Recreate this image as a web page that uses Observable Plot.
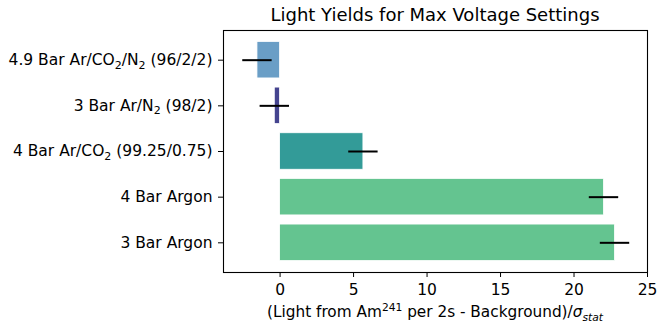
<!DOCTYPE html>
<html>
<head>
<meta charset="utf-8">
<script src="https://cdn.jsdelivr.net/npm/d3@7"></script>
<script src="https://cdn.jsdelivr.net/npm/@observablehq/plot@0.6"></script>
<style>
  html, body { margin: 0; padding: 0; background: white; }
  svg { display: block; }
</style>
</head>
<body>
<div id="chart"></div>
<script>
const title = "Light Yields for Max Voltage Settings";
const categories = ["4.9 Bar Ar/CO₂/N₂ (96/2/2)", "3 Bar Ar/N₂ (98/2)", "4 Bar Ar/CO₂ (99.25/0.75)", "4 Bar Argon", "3 Bar Argon"];
const values = [-1.54, -0.36, 5.67, 22.04, 22.79];
const errors = [1.0, 1.0, 1.0, 1.0, 1.0];
const colors = ["#6a9ec6", "#45448f", "#339b98", "#64c490", "#64c490"];
const xTicks = [0, 5, 10, 15, 20, 25];

const data = categories.map((c, i) => ({cat: c, value: values[i], err: errors[i], color: colors[i]}));

const W = 664, H = 332, ML = 223, MR = 17, MT = 30, MB = 60;

const chart = Plot.plot({
  width: W, height: H,
  marginLeft: ML, marginRight: MR, marginTop: MT, marginBottom: MB,
  style: {fontFamily: "DejaVu Sans", fontSize: "15.5px", color: "#000", background: "white", overflow: "visible"},
  x: {domain: [-3.85, 25.0], ticks: xTicks, label: null, tickSize: 5, tickPadding: 6.5},
  y: {domain: categories, paddingInner: 0.2, paddingOuter: 0.25, round: false, label: null, tickSize: 5, tickPadding: 6},
  marks: [
    Plot.barX(data, {y: "cat", x: "value", fill: "color", stroke: "white", strokeWidth: 0.8}),
    Plot.ruleY(data, {y: "cat", x1: d => d.value - d.err, x2: d => d.value + d.err, stroke: "black", strokeWidth: 2}),
    Plot.frame({stroke: "black", strokeWidth: 1.1})
  ]
});
document.getElementById("chart").appendChild(chart);

const svg = d3.select(chart);

// Subscript rendering for y tick labels
svg.selectAll('g[aria-label="y-axis tick label"] text').each(function() {
  const t = d3.select(this);
  const s = t.text();
  t.text(null);
  const parts = s.split("₂");
  let shifted = false;
  parts.forEach((p, i) => {
    if (p) {
      const ts = t.append("tspan").text(p);
      if (shifted) { ts.attr("dy", "-3.5px"); shifted = false; }
    }
    if (i < parts.length - 1) {
      t.append("tspan").attr("font-size", "11px").attr("dy", shifted ? null : "3.5px").text("2");
      shifted = true;
    }
  });
});

const cx = (ML + (W - MR)) / 2;

// Title
svg.append("text")
  .attr("x", cx).attr("y", 21)
  .attr("text-anchor", "middle")
  .attr("font-size", "18px")
  .attr("fill", "#000")
  .text(title);

// X axis label with superscript and italic subscript
const xl = svg.append("text")
  .attr("x", cx).attr("y", 317)
  .attr("text-anchor", "middle")
  .attr("font-size", "15.3px")
  .attr("fill", "#000");
xl.append("tspan").text("(Light from Am");
xl.append("tspan").attr("font-size", "10.7px").attr("dy", "-6px").text("241");
xl.append("tspan").attr("dy", "6px").text(" per 2s - Background)/");
xl.append("tspan").attr("font-style", "italic").text("σ");
xl.append("tspan").attr("font-style", "italic").attr("font-size", "10.7px").attr("dy", "3.5px").text("stat");
</script>
</body>
</html>
